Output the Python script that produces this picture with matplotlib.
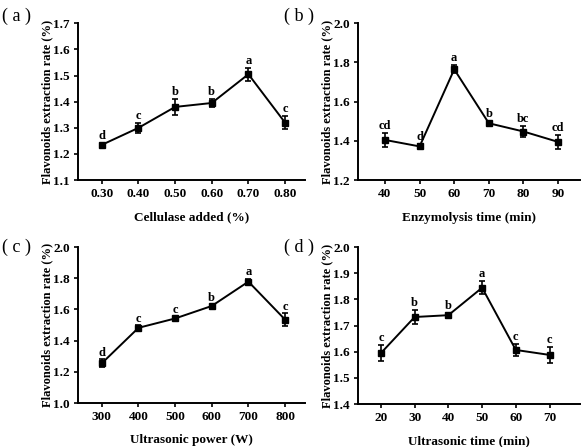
import matplotlib.pyplot as plt
import numpy as np

plt.rcParams['font.family'] = ['Liberation Serif', 'DejaVu Serif']
plt.rcParams['font.weight'] = 'bold'

# (a) cellulase
a_x = [0.30, 0.40, 0.50, 0.60, 0.70, 0.80]
a_y = [1.235, 1.300, 1.380, 1.395, 1.505, 1.320]
a_err = [0.005, 0.020, 0.030, 0.015, 0.025, 0.025]
a_sig = ['d', 'c', 'b', 'b', 'a', 'c']

# (b) enzymolysis time
b_x = [40, 50, 60, 70, 80, 90]
b_y = [1.405, 1.372, 1.765, 1.490, 1.448, 1.395]
b_err = [0.035, 0.010, 0.020, 0.010, 0.030, 0.035]
b_sig = ['cd', 'd', 'a', 'b', 'bc', 'cd']

# (c) ultrasonic power
c_x = [300, 400, 500, 600, 700, 800]
c_y = [1.255, 1.482, 1.542, 1.622, 1.778, 1.535]
c_err = [0.025, 0.015, 0.010, 0.008, 0.020, 0.040]
c_sig = ['d', 'c', 'c', 'b', 'a', 'c']

# (d) ultrasonic time
d_x = [20, 30, 40, 50, 60, 70]
d_y = [1.595, 1.733, 1.740, 1.845, 1.607, 1.588]
d_err = [0.032, 0.027, 0.010, 0.025, 0.022, 0.032]
d_sig = ['c', 'b', 'b', 'a', 'c', 'c']

fig = plt.figure(figsize=(5.84, 4.47), dpi=100)

def panel(rect, x, y, err, sig, xlim, ylim, yticks, xticklabels, xlabel, tag, tag_y, off):
    ax = fig.add_axes(rect)
    ax.errorbar(x, y, yerr=err, color='black', lw=1.4, marker='s', ms=4,
                capsize=2.5, elinewidth=1.2, capthick=1.2)
    for xi, yi, e, s in zip(x, y, err, sig):
        ax.text(xi, yi + e + off, s, ha='center', va='bottom', fontsize=9, fontweight='bold')
    ax.set_xlim(xlim)
    ax.set_ylim(ylim)
    ax.set_yticks(yticks)
    ax.set_xticks(x)
    ax.set_xticklabels(xticklabels)
    for sp in ['top', 'right']:
        ax.spines[sp].set_visible(False)
    for sp in ['left', 'bottom']:
        ax.spines[sp].set_linewidth(1.4)
    ax.tick_params(direction='out', length=3, width=1.2, labelsize=9.5, pad=3)
    for lab in ax.get_xticklabels() + ax.get_yticklabels():
        lab.set_fontweight('bold')
    ax.set_xlabel(xlabel, fontsize=9.5, fontweight='bold', labelpad=8)
    ax.set_ylabel('Flavonoids extraction rate (%)', fontsize=9, fontweight='bold')
    ax.yaxis.set_label_coords(-0.11, 0.5)
    ax.text(-0.335, tag_y, tag, transform=ax.transAxes, fontsize=13, fontweight='normal',
            ha='left', va='center')
    return ax

panel([0.1336, 0.597, 0.389, 0.351], a_x, a_y, a_err, a_sig, (0.235, 0.855), (1.1, 1.7),
      np.arange(1.1, 1.71, 0.1), ['0.30', '0.40', '0.50', '0.60', '0.70', '0.80'],
      'Cellulase added (%)', '( a )', 1.045, 0.004)
panel([0.613, 0.597, 0.380, 0.351], b_x, b_y, b_err, b_sig, (32.2, 96.3), (1.2, 2.0),
      [1.2, 1.4, 1.6, 1.8, 2.0], [str(v) for v in b_x],
      'Enzymolysis time (min)', '( b )', 1.045, 0.005)
panel([0.1336, 0.0984, 0.389, 0.349], c_x, c_y, c_err, c_sig, (235, 855), (1.0, 2.0),
      [1.0, 1.2, 1.4, 1.6, 1.8, 2.0], [str(v) for v in c_x],
      'Ultrasonic power (W)', '( c )', 1.0, 0.005)
panel([0.613, 0.096, 0.380, 0.351], d_x, d_y, d_err, d_sig, (13.2, 79), (1.4, 2.0),
      np.arange(1.4, 2.01, 0.1), [str(v) for v in d_x],
      'Ultrasonic time (min)', '( d )', 1.0, 0.004)

fig.savefig('out.png', dpi=100)
